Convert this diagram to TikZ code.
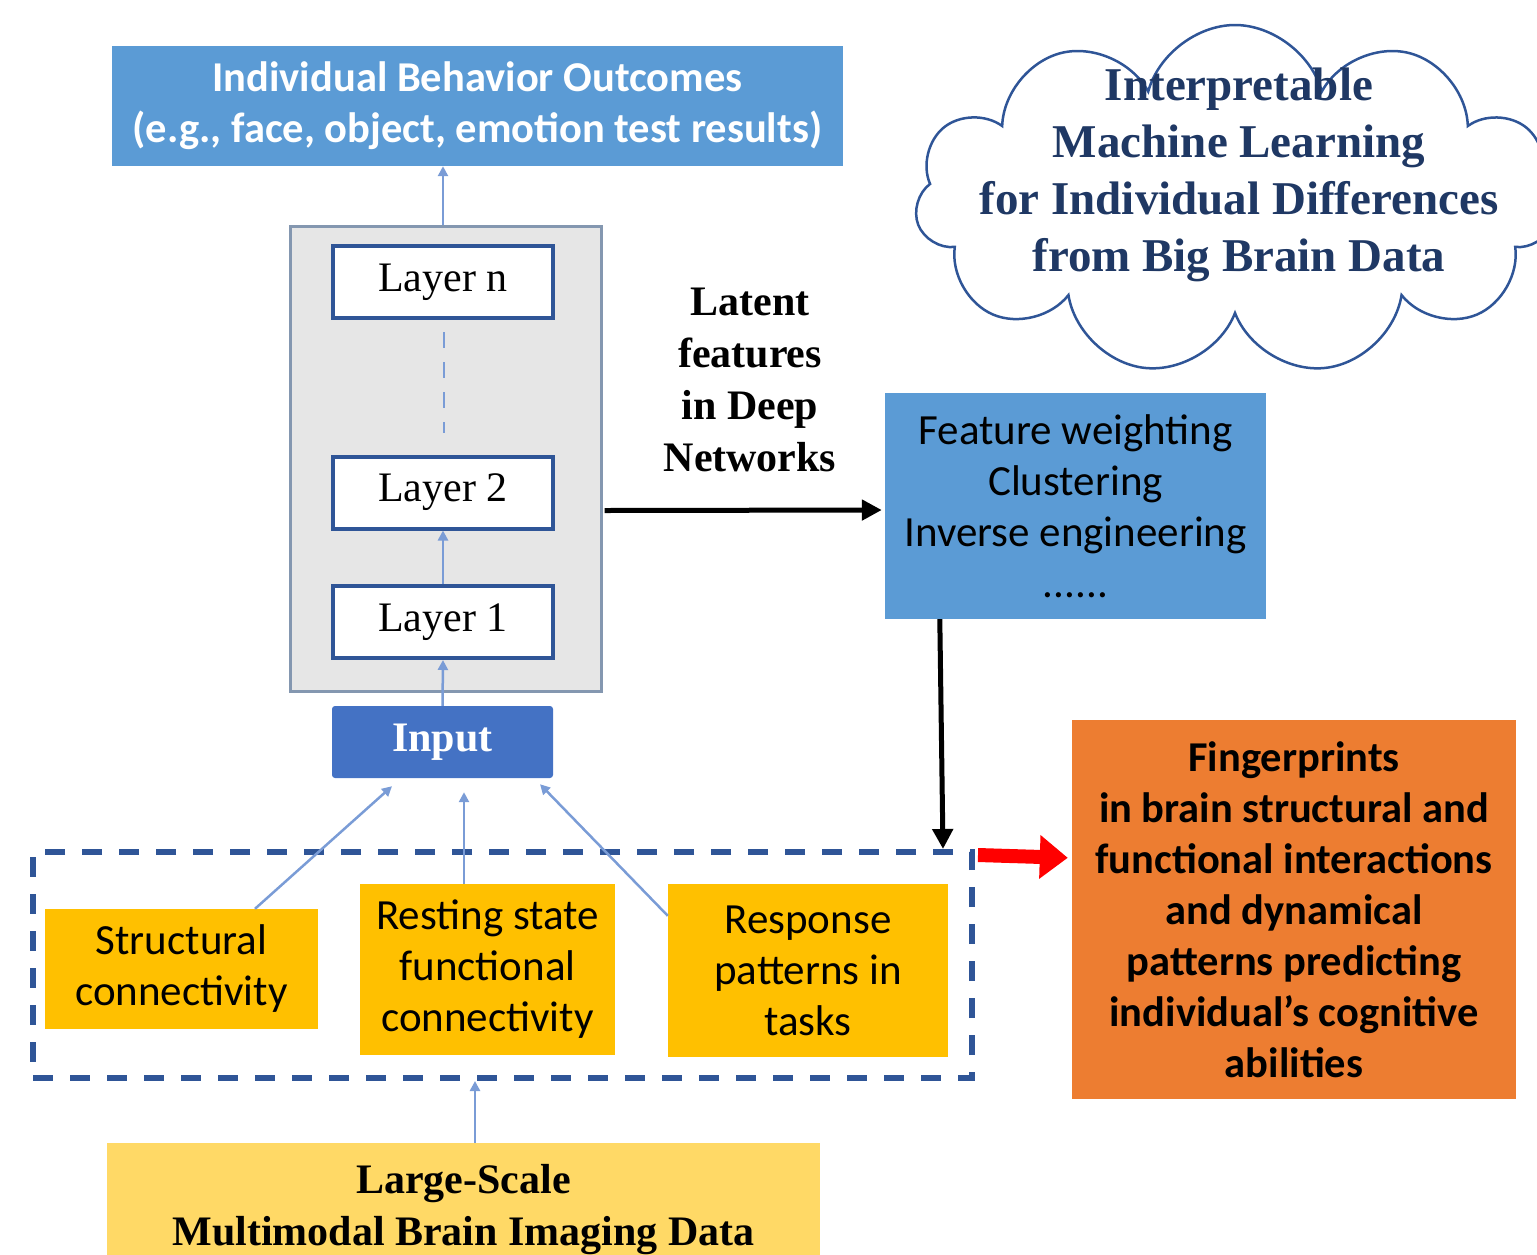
\documentclass[tikz,border=0pt]{standalone}
\usepackage{fontspec}
\setmainfont{Liberation Serif}
\newfontfamily\calfont{Carlito}
\usetikzlibrary{shapes.symbols,arrows.meta,calc}
\definecolor{topblue}{HTML}{5B9BD5}
\definecolor{inblue}{HTML}{4472C4}
\definecolor{darkblue}{HTML}{2F5597}
\definecolor{lightarrow}{HTML}{7A9CD6}
\definecolor{graybox}{HTML}{E6E6E6}
\definecolor{grayedge}{HTML}{8497B0}
\definecolor{gold}{HTML}{FFC000}
\definecolor{paleGold}{HTML}{FFD966}
\definecolor{orangebox}{HTML}{ED7D31}
\definecolor{navytext}{HTML}{1F3864}
\begin{document}
\begin{tikzpicture}[x=1pt,y=-1pt,
  sans/.style={font=\calfont\fontsize{43}{51}\selectfont},
  sansb/.style={font=\calfont\bfseries\fontsize{42.5}{51}\selectfont},
  serif/.style={font=\fontsize{42}{52}\selectfont},
  serifb/.style={font=\bfseries\fontsize{42}{52}\selectfont},
  rbox/.style={rectangle, inner sep=0pt, align=center},
  layerbox/.style={rbox, fill=white, draw=darkblue, line width=4pt, minimum width=220pt, minimum height=72pt, serif},
  thinarrow/.style={draw=lightarrow, line width=2.5pt, -{Triangle[length=10pt,width=10pt]}},
  blackarrow/.style={draw=black, line width=5pt, -{Triangle[length=20pt,width=20pt]}},
]
\useasboundingbox (0,0) rectangle (1537,1254);

% cloud
\node[cloud, cloud puffs=11, aspect=1.8, draw=darkblue, line width=2.5pt, fill=white, minimum width=640pt, minimum height=350pt] (cl) at (1235,200) {};
\node[font=\bfseries\fontsize{47}{57}\selectfont, text=navytext, align=center] (cltxt) at (1239,175) {Interpretable\\Machine Learning\\for Individual Differences\\from Big Brain Data};

% top outcome box
\node[rbox, fill=topblue, minimum width=731pt, minimum height=120pt, sansb, text=white] (outc) at (477.5,106) {Individual Behavior Outcomes\\(e.g., face, object, emotion test results)};

% network container and layers
\node[rbox, fill=graybox, draw=grayedge, line width=3pt, minimum width=311pt, minimum height=465pt] (net) at (445.5,458.5) {};
\node[layerbox] (ln) at (443,282) {Layer n};
\node[layerbox] (l2) at (443,492.5) {Layer 2};
\node[layerbox] (l1) at (443,622) {Layer 1};
\node[rbox, fill=inblue, rounded corners=3pt, minimum width=221pt, minimum height=72pt, serifb, text=white] (inp) at (442.5,742) {Input};

% dashed group and its members
\node[rbox, draw=darkblue, line width=6pt, dash pattern=on 20pt off 17pt, minimum width=939pt, minimum height=226pt] (grp) at (502.5,965) {};
\node[rbox, fill=gold, minimum width=273pt, minimum height=120pt, sans] (sc) at (181.5,969) {Structural\\connectivity};
\node[rbox, fill=gold, minimum width=255pt, minimum height=171pt, sans] (rs) at (487.5,969.5) {Resting state\\functional\\connectivity};
\node[rbox, fill=gold, minimum width=280pt, minimum height=173pt, sans] (rp) at (808,970.5) {Response\\patterns in\\tasks};

% bottom data box
\node[rbox, fill=paleGold, minimum width=713pt, minimum height=134pt, serifb] (data) at (463.5,1210) {Large-Scale\\Multimodal Brain Imaging Data};

% feature box
\node[rbox, fill=topblue, minimum width=381pt, minimum height=226pt, sans] (feat) at (1075.5,506) {Feature weighting\\Clustering\\Inverse engineering\\......};

% fingerprints box
\node[rbox, fill=orangebox, minimum width=444pt, minimum height=379pt, sansb] (fp) at (1294,909.5) {Fingerprints\\in brain structural and\\functional interactions\\and dynamical\\patterns predicting\\individual’s cognitive\\abilities};

% latent label
\node[serifb, align=center] (lat) at (750,380) {Latent\\features\\in Deep\\Networks};

% connectors
\draw[thinarrow] (net.north -| ln.north) -- (outc.south -| ln.north);
\draw[draw=lightarrow, line width=2.5pt, dash pattern=on 16pt off 14pt] ($(ln.south)+(1,12)$) -- ($(l2.north)+(1,-22)$);
\draw[thinarrow] (l1.north) -- (l2.south);
\draw[thinarrow] (inp.north) -- (l1.south);
\draw[thinarrow] ($(sc.north)+(73.5,0)$) -- ($(inp.south)+(-50.5,8)$);
\draw[thinarrow] ($(rs.north)+(-23.5,0)$) -- ($(inp.south)+(21.5,14)$);
\draw[thinarrow] ($(rp.north west)+(0,32)$) -- ($(inp.south)+(97.5,6)$);
\draw[thinarrow] ($(data.north)+(11.5,0)$) -- ($(grp.south)+(-27.5,0)$);
\draw[blackarrow] ($(net.east)+(2,52)$) -- ($(feat.west)+(-3,4)$);
\draw[blackarrow] ($(feat.south west)+(55,0)$) -- ($(grp.north east)+(-32,0)$);
\draw[draw=red, line width=14pt, -{Triangle[length=28pt,width=42pt]}] ($(grp.north east)+(3,6)$) -- ($(fp.north west)+(-4,138)$);
\end{tikzpicture}
\end{document}
